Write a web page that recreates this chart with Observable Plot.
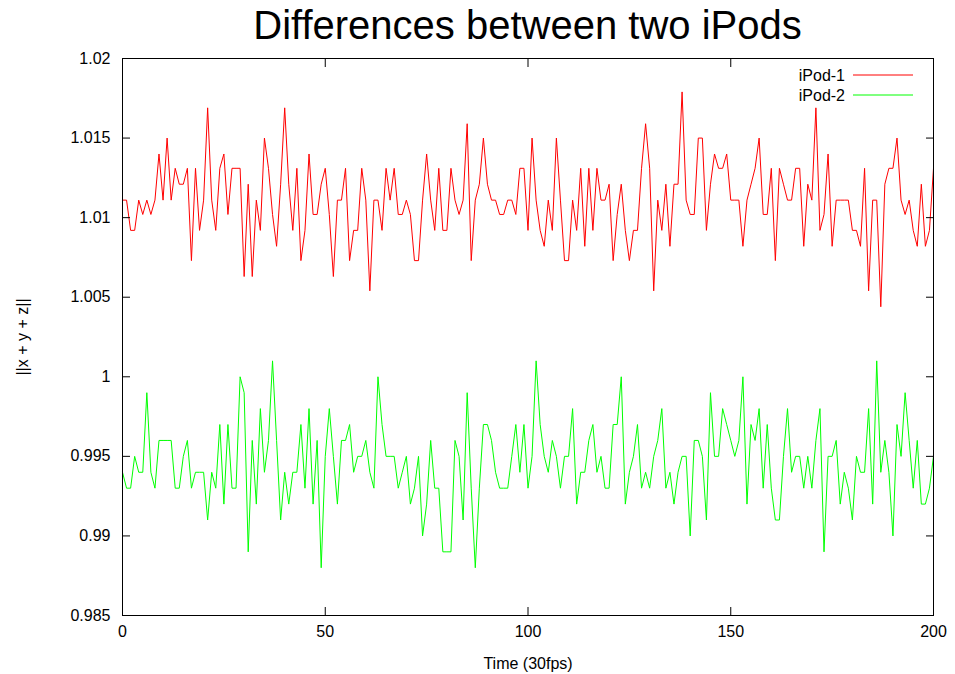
<!DOCTYPE html>
<html><head><meta charset="utf-8">
<script src="https://cdn.jsdelivr.net/npm/d3@7"></script>
<script src="https://cdn.jsdelivr.net/npm/@observablehq/plot@0.6"></script>
<style>
body{margin:0;background:#fff;}
#wrap{width:955px;height:674px;position:relative;background:#fff;}
#title{height:50px;line-height:50px;font-family:"Liberation Sans",Arial,sans-serif;font-size:40px;padding-left:100px;width:855px;text-align:center;color:#000;white-space:nowrap;}
</style></head><body>
<div id="wrap">
<div id="title">Differences between two iPods</div>
<div id="chart"></div>
</div>
<script>
const seriesNames = ["iPod-1", "iPod-2"];
const seriesColors = ["#ff0000", "#00ff00"];
const xTicks = [0, 50, 100, 150, 200];
const xTickLabels = ["0", "50", "100", "150", "200"];
const yTicks = [0.985, 0.99, 0.995, 1, 1.005, 1.01, 1.015, 1.02];
const yTickLabels = ["0.985", "0.99", "0.995", "1", "1.005", "1.01", "1.015", "1.02"];
const xLabel = "Time (30fps)";
const yLabel = "||x + y + z||";

const ipod1 = [
1.0111,1.0111,1.0092,1.0092,1.0111,1.0102,1.0111,1.0102,1.0111,1.0140,
1.0111,1.0150,1.0111,1.0131,1.0121,1.0121,1.0131,1.0073,1.0131,1.0092,
1.0111,1.0169,1.0111,1.0092,1.0131,1.0140,1.0102,1.0131,1.0131,1.0131,
1.0063,1.0121,1.0063,1.0111,1.0092,1.0150,1.0131,1.0102,1.0082,1.0121,
1.0169,1.0121,1.0092,1.0131,1.0073,1.0092,1.0140,1.0102,1.0102,1.0121,
1.0131,1.0102,1.0063,1.0111,1.0111,1.0131,1.0073,1.0092,1.0092,1.0131,
1.0111,1.0054,1.0111,1.0111,1.0092,1.0131,1.0111,1.0131,1.0102,1.0102,
1.0111,1.0102,1.0073,1.0073,1.0111,1.0140,1.0111,1.0092,1.0131,1.0092,
1.0092,1.0131,1.0111,1.0102,1.0111,1.0159,1.0073,1.0111,1.0121,1.0150,
1.0121,1.0111,1.0111,1.0102,1.0102,1.0111,1.0111,1.0102,1.0131,1.0131,
1.0092,1.0150,1.0111,1.0092,1.0082,1.0111,1.0092,1.0150,1.0111,1.0073,
1.0073,1.0111,1.0092,1.0131,1.0082,1.0131,1.0092,1.0131,1.0111,1.0111,
1.0121,1.0073,1.0102,1.0121,1.0092,1.0073,1.0092,1.0092,1.0131,1.0159,
1.0131,1.0054,1.0111,1.0092,1.0121,1.0082,1.0121,1.0121,1.0179,1.0111,
1.0102,1.0102,1.0150,1.0150,1.0092,1.0121,1.0140,1.0131,1.0131,1.0140,
1.0111,1.0111,1.0111,1.0082,1.0111,1.0121,1.0131,1.0150,1.0102,1.0102,
1.0131,1.0073,1.0131,1.0121,1.0111,1.0111,1.0131,1.0131,1.0082,1.0121,
1.0111,1.0169,1.0092,1.0102,1.0140,1.0082,1.0111,1.0111,1.0111,1.0111,
1.0092,1.0092,1.0082,1.0131,1.0054,1.0111,1.0111,1.0044,1.0121,1.0131,
1.0131,1.0150,1.0111,1.0102,1.0111,1.0092,1.0082,1.0121,1.0082,1.0092,
1.0131
];

const ipod2 = [
0.994,0.993,0.993,0.995,0.994,0.994,0.999,0.994,0.993,0.996,
0.996,0.996,0.996,0.993,0.993,0.995,0.996,0.993,0.994,0.994,
0.994,0.991,0.994,0.993,0.997,0.992,0.997,0.993,0.993,1.000,
0.999,0.989,0.996,0.992,0.998,0.994,0.996,1.001,0.996,0.991,
0.994,0.992,0.994,0.994,0.997,0.993,0.998,0.992,0.996,0.988,
0.995,0.998,0.995,0.992,0.996,0.996,0.997,0.994,0.995,0.995,
0.996,0.994,0.993,1.000,0.997,0.995,0.995,0.995,0.993,0.994,
0.995,0.992,0.993,0.995,0.990,0.992,0.996,0.993,0.993,0.989,
0.989,0.989,0.996,0.995,0.991,0.999,0.993,0.988,0.993,0.997,
0.997,0.996,0.994,0.993,0.993,0.993,0.995,0.997,0.994,0.997,
0.993,0.995,1.001,0.997,0.995,0.994,0.996,0.995,0.993,0.995,
0.995,0.998,0.992,0.994,0.994,0.996,0.997,0.994,0.995,0.993,
0.993,0.997,0.997,1.000,0.992,0.994,0.995,0.997,0.993,0.994,
0.993,0.995,0.996,0.998,0.993,0.994,0.992,0.994,0.995,0.995,
0.990,0.996,0.996,0.995,0.991,0.999,0.995,0.995,0.998,0.997,
0.996,0.995,0.996,1.000,0.992,0.997,0.996,0.998,0.993,0.997,
0.993,0.991,0.991,0.995,0.998,0.994,0.995,0.995,0.993,0.995,
0.993,0.996,0.998,0.989,0.995,0.995,0.996,0.992,0.994,0.993,
0.991,0.995,0.994,0.994,0.998,0.992,1.001,0.994,0.996,0.994,
0.990,0.997,0.995,0.999,0.996,0.993,0.996,0.992,0.992,0.993,
0.995
];

const seriesValues = [ipod1, ipod2];
const data = [];
seriesValues.forEach((vals, s) => vals.forEach((v, t) => data.push({series: seriesNames[s], t, v})));

const W = 955, H = 624, mL = 122, mR = 22, mT = 8, mB = 59;
const font = "Liberation Sans, Arial, sans-serif";

const chart = Plot.plot({
  width: W, height: H,
  marginLeft: mL, marginRight: mR, marginTop: mT, marginBottom: mB,
  style: {fontFamily: font, fontSize: "16px", color: "#000", background: "#fff"},
  x: {domain: [0, 200]},
  y: {domain: [0.985, 1.02]},
  color: {domain: seriesNames, range: seriesColors},
  marks: [
    Plot.line(data, {x: "t", y: "v", stroke: "series", z: "series", strokeWidth: 1}),
    Plot.axisX({ticks: xTicks, tickSize: 0, tickPadding: 10,
      tickFormat: d => xTickLabels[xTicks.indexOf(d)],
      label: xLabel, labelAnchor: "center", labelArrow: "none", labelOffset: 53}),
    Plot.axisX({ticks: xTicks, anchor: "bottom", tickSize: -8, text: null, label: null, stroke: "#000"}),
    Plot.axisX({ticks: xTicks, anchor: "top", tickSize: -8, text: null, label: null, stroke: "#000"}),
    Plot.axisY({ticks: yTicks, tickSize: 0, tickPadding: 12,
      tickFormat: d => yTickLabels[yTicks.indexOf(d)],
      label: yLabel, labelAnchor: "center", labelArrow: "none", labelOffset: 106}),
    Plot.axisY({ticks: yTicks, anchor: "left", tickSize: -8, text: null, label: null, stroke: "#000"}),
    Plot.axisY({ticks: yTicks, anchor: "right", tickSize: -8, text: null, label: null, stroke: "#000"}),
    Plot.frame({stroke: "#000", strokeWidth: 1})
  ]
});
document.getElementById("chart").appendChild(chart);

// key (legend) inside top-right of the frame
const svg = d3.select(chart);
const right = W - mR;
const key = svg.append("g").attr("font-family", font).attr("font-size", 16);
seriesNames.forEach((name, i) => {
  const y = mT + 17 + i * 20;
  key.append("text").attr("x", right - 88).attr("y", y).attr("dy", "0.35em")
    .attr("text-anchor", "end").attr("fill", "#000").text(name);
  key.append("line").attr("x1", right - 80).attr("x2", right - 20)
    .attr("y1", y).attr("y2", y).attr("stroke", seriesColors[i]).attr("stroke-width", 1);
});
</script>
</body></html>
